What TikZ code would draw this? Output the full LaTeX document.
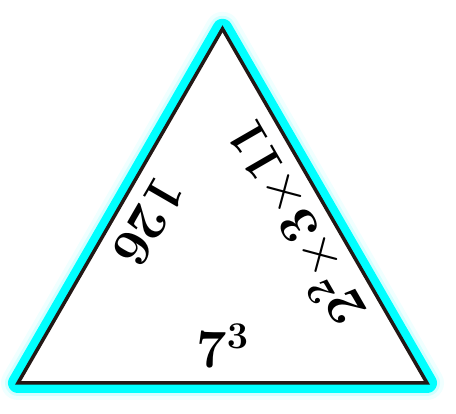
\RequirePackage{fix-cm}
\documentclass[tikz,border=0pt]{standalone}
\usepackage{amsmath}
\usepackage{xcolor}
\usepackage{tikz}
\usetikzlibrary{calc}

\definecolor{bordo}{RGB}{35,24,21}
\definecolor{ciano}{RGB}{0,255,255}

\begin{document}
\begin{tikzpicture}[x=1pt, y=1pt, line join=round, line cap=round]
\useasboundingbox (0,0) rectangle (456,414);

% Vertici
\coordinate (A) at (18,31);
\coordinate (B) at (427,31);
\coordinate (C) at (222.5,385.2);

% Alone ciano
\draw[ciano!6, line width=34] (A) -- (B) -- (C) -- cycle;
\draw[ciano!18, line width=26] (A) -- (B) -- (C) -- cycle;
\draw[ciano, line width=20] (A) -- (B) -- (C) -- cycle;

% Triangolo
\filldraw[fill=white, draw=bordo, line width=3.5, line join=miter]
    (A) -- (B) -- (C) -- cycle;

% Etichette sui lati
\tikzset{etichetta/.style={anchor=base, inner sep=0pt, font=\fontsize{54}{60}\selectfont}}
\node[etichetta] (basso) at ($(A)!.5!(B)!15pt!90:(B)$) {$\mathbf{7^3}$};
\node[etichetta, rotate=120] (destra) at ($(B)!.5!(C)!15pt!90:(C)$) {$\mathbf{2^2{\times}3{\times}11}$};
\node[etichetta, rotate=-120] (sinistra) at ($(C)!.5!(A)!15pt!90:(A)$) {$\mathbf{126}$};

\end{tikzpicture}
\end{document}
